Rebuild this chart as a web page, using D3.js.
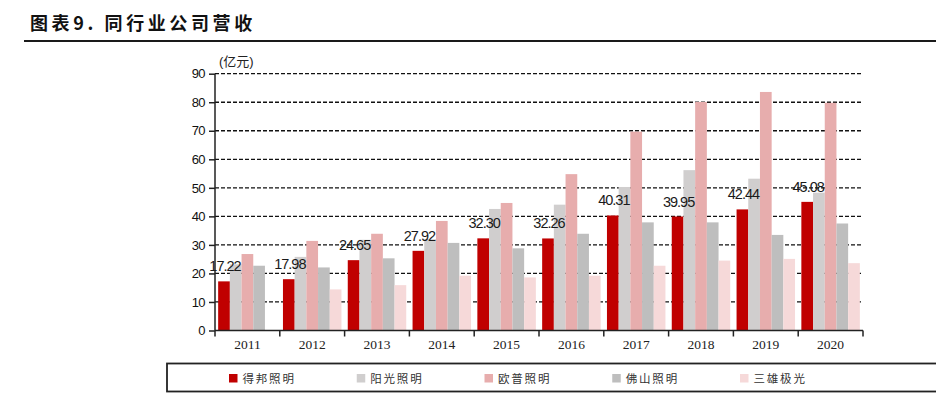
<!DOCTYPE html>
<html><head><meta charset="utf-8">
<script src="https://cdn.jsdelivr.net/npm/d3@7/dist/d3.min.js"></script>
<style>
body{margin:0;background:#fff;}
svg{display:block;}
</style></head>
<body>
<svg id="c" width="936" height="397"></svg>
<script>
const years = ["2011","2012","2013","2014","2015","2016","2017","2018","2019","2020"];
const seriesNames = ["得邦照明","阳光照明","欧普照明","佛山照明","三雄极光"];
const debang   = [17.22,17.98,24.65,27.92,32.30,32.26,40.31,39.95,42.44,45.08];
const yangguang= [23.2,25.8,31.8,32.0,42.6,44.1,50.3,56.2,53.2,48.3];
const oupu     = [26.8,31.4,33.9,38.4,44.7,54.8,69.7,80.1,83.6,79.8];
const foshan   = [22.7,22.1,25.3,30.7,28.8,33.9,37.9,37.9,33.5,37.5];
const sanxiong = [null,14.4,15.9,19.2,18.6,19.2,22.7,24.5,25.1,23.6];
const yTicks = [0,10,20,30,40,50,60,70,80,90];
const colors = ["#C00000","#D0CECE","#E7ADAD","#BEBEBE","#F6D9D9"];
const seriesData = [debang,yangguang,oupu,foshan,sanxiong];

const svg = d3.select("#c");

// title
svg.append("text").attr("x",30).attr("y",30)
  .attr("font-family","'Noto Sans CJK SC', sans-serif").attr("font-weight","bold")
  .attr("font-size",18).attr("letter-spacing",3.6).attr("fill","#111")
  .text("图表9. 同行业公司营收");
svg.append("line").attr("x1",24).attr("x2",936).attr("y1",41).attr("y2",41)
  .attr("stroke","#1a1a1a").attr("stroke-width",2);

const x = d3.scaleBand().domain(years).range([215,863]).padding(0);
const xi = d3.scaleBand().domain(d3.range(5)).range([0,x.bandwidth()]).paddingInner(0).paddingOuter(0.27);
const y = d3.scaleLinear().domain([0,90]).range([330.5,73.7]);

// grid
svg.append("g").selectAll("line").data(yTicks.filter(d=>d>0)).join("line")
  .attr("x1",215).attr("x2",863).attr("y1",d=>y(d)).attr("y2",d=>y(d))
  .attr("stroke","#111").attr("stroke-width",1.3).attr("stroke-dasharray","4,2");

// bars
seriesData.forEach((arr,si)=>{
  svg.append("g").selectAll("rect").data(years.map((yr,i)=>({yr,v:arr[i]})).filter(d=>d.v!=null)).join("rect")
    .attr("x",d=>x(d.yr)+xi(si)).attr("width",xi.bandwidth())
    .attr("y",d=>y(d.v)).attr("height",d=>y(0)-y(d.v))
    .attr("fill",colors[si]);
});

// labels for 得邦
svg.append("g").selectAll("text").data(years.map((yr,i)=>({yr,v:debang[i]}))).join("text")
  .attr("x",d=>x(d.yr)+xi(0)+xi.bandwidth()/2+1)
  .attr("y",d=>y(d.v)-10)
  .attr("text-anchor","middle")
  .attr("font-family","'Liberation Sans', Arial, sans-serif").attr("font-size",14.5)
  .attr("letter-spacing",-1).attr("fill","#1a1a1a")
  .text(d=>d.v.toFixed(2));

// y axis
const yAxis = d3.axisLeft(y).tickValues(yTicks).tickSize(6).tickPadding(4).tickFormat(d3.format("d"));
const gy = svg.append("g").attr("transform","translate(215,0)").call(yAxis);
gy.select(".domain").attr("stroke","#222").attr("stroke-width",1.5).attr("d","M0,"+y(90)+"V"+y(0));
gy.selectAll(".tick line").attr("stroke","#222").attr("stroke-width",1.5);
gy.selectAll(".tick text").attr("font-family","'Liberation Sans', Arial, sans-serif")
  .attr("font-size",13).attr("letter-spacing",-0.6).attr("fill","#111");

svg.append("text").attr("x",219).attr("y",66)
  .attr("font-family","'Liberation Sans','Noto Sans CJK SC', sans-serif").attr("font-size",13)
  .attr("fill","#222").text("(亿元)");

// x axis
const xb = d3.scaleLinear().domain([0,10]).range([215,863]);
const gx = svg.append("g").attr("transform","translate(0,"+y(0)+")");
gx.append("line").attr("x1",215).attr("x2",863).attr("stroke","#222").attr("stroke-width",1.5);
gx.selectAll("line.t").data(d3.range(11)).join("line").attr("class","t")
  .attr("x1",d=>xb(d)).attr("x2",d=>xb(d)).attr("y1",0).attr("y2",6)
  .attr("stroke","#222").attr("stroke-width",1.5);
gx.selectAll("text").data(years).join("text")
  .attr("x",d=>x(d)+x.bandwidth()/2).attr("y",18.5).attr("text-anchor","middle")
  .attr("font-family","'Liberation Serif','Times New Roman', serif").attr("font-size",13.5)
  .attr("fill","#222").text(d=>d);

// legend
svg.append("rect").attr("x",167).attr("y",363.5).attr("width",770).attr("height",28)
  .attr("fill","none").attr("stroke","#222").attr("stroke-width",1.8);
const legX = d3.scaleLinear().domain([0,4]).range([229,740]);
const lg = svg.append("g").selectAll("g").data(seriesNames).join("g")
  .attr("transform",(d,i)=>"translate("+legX(i)+",374)");
lg.append("rect").attr("width",8.5).attr("height",8.5).attr("fill",(d,i)=>colors[i]);
lg.append("text").attr("x",13.5).attr("y",8.8)
  .attr("font-family","'Noto Sans CJK SC', sans-serif").attr("font-size",11.5)
  .attr("letter-spacing",1.8).attr("fill","#333").text(d=>d);
</script>
</body></html>
